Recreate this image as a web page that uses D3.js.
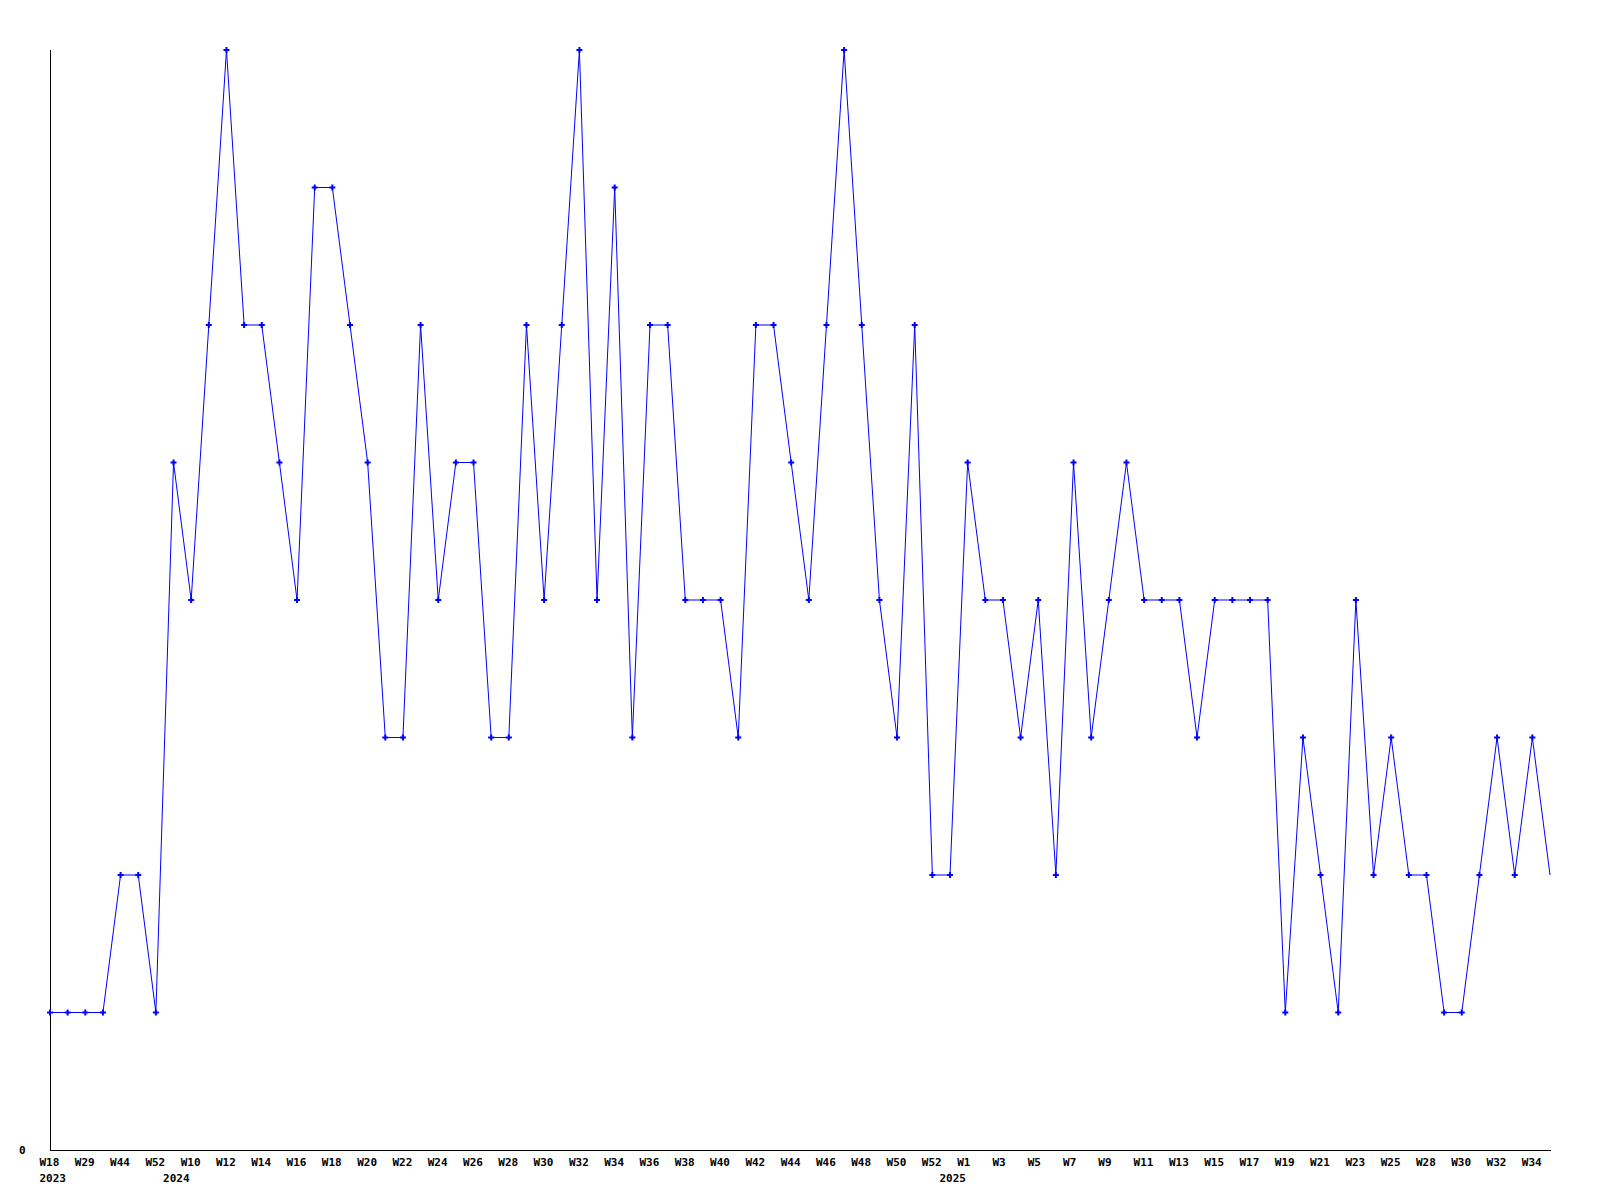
<!DOCTYPE html>
<html>
<head>
<meta charset="utf-8">
<script src="https://cdn.jsdelivr.net/npm/d3@7"></script>
<style>
  html, body { margin: 0; padding: 0; background: #ffffff; }
  svg text { font-family: "DejaVu Sans Mono", "Liberation Mono", monospace; font-weight: bold; font-size: 11px; fill: #000; }
</style>
</head>
<body>
<svg id="chart" width="1600" height="1200"></svg>
<script>
// Week labels for each data point (odd ones are not displayed on the axis)
const weeks = [
  "W18","W22","W29","W37","W44","W48","W52","W1",
  "W10","W11","W12","W13","W14","W15","W16","W17","W18","W19","W20","W21",
  "W22","W23","W24","W25","W26","W27","W28","W29","W30","W31","W32","W33",
  "W34","W35","W36","W37","W38","W39","W40","W41","W42","W43","W44","W45",
  "W46","W47","W48","W49","W50","W51","W52","W1",
  "W1","W2","W3","W4","W5","W6","W7","W8","W9","W10","W11","W12","W13","W14",
  "W15","W16","W17","W18","W19","W20","W21","W22","W23","W24","W25","W27",
  "W28","W29","W30","W31","W32","W33","W34","W35"
];
// Year labels: point index and label
const yearIdx = [0, 7, 51];
const yearText = ["2023", "2024", "2025"];

// Series values
const values = [
  1,1,1,1,2,2,1,5,
  4,6,8,6,6,5,4,7,7,6,5,3,
  3,6,4,5,5,3,3,6,4,6,8,4,
  7,3,6,6,4,4,4,3,6,6,5,4,
  6,8,6,4,3,6,2,2,
  5,4,4,3,4,2,5,3,4,5,4,4,4,3,
  4,4,4,4,1,3,2,1,4,2,3,2,
  2,1,1,2,3,2,3,2
];
const yMax = 8;
const yTicks = [0];

(function () {
  const svg = d3.select("#chart");
  const mLeft = 50, mRight = 1550, mTop = 50, mBottom = 1150;

  const x = d3.scalePoint().domain(d3.range(values.length)).range([mLeft, mRight]);
  const y = d3.scaleLinear().domain([0, yMax]).range([mBottom, mTop]);

  // Axes lines
  svg.append("line").attr("x1", mLeft + 0.5).attr("x2", mLeft + 0.5).attr("y1", mTop).attr("y2", mBottom + 0.5)
    .attr("stroke", "#000").attr("stroke-width", 1);
  svg.append("line").attr("x1", mLeft).attr("x2", mRight + 1).attr("y1", mBottom + 0.5).attr("y2", mBottom + 0.5)
    .attr("stroke", "#000").attr("stroke-width", 1);

  // Y tick labels
  svg.selectAll("text.ylab").data(yTicks).enter().append("text")
    .attr("class", "ylab")
    .attr("x", 19)
    .attr("y", d => y(d) + 4)
    .text(d => d);

  // X tick labels (every other point)
  const shown = d3.range(0, values.length, 2);
  svg.selectAll("text.xlab").data(shown).enter().append("text")
    .attr("class", "xlab")
    .attr("x", i => x(i) - 10.5)
    .attr("y", 1166)
    .text(i => weeks[i]);

  // Year labels
  svg.selectAll("text.year").data(yearIdx).enter().append("text")
    .attr("class", "year")
    .attr("x", i => x(i) - 10.5)
    .attr("y", 1182)
    .text((i, k) => yearText[k]);

  // Line
  const line = d3.line().x((d, i) => x(i)).y(d => y(d));
  svg.append("path").datum(values)
    .attr("d", line)
    .attr("fill", "none")
    .attr("stroke", "#0000ff")
    .attr("stroke-width", 1);

  // Markers (last point has none in the reference)
  const sym = d3.symbol().type(d3.symbolCross).size(20);
  svg.selectAll("path.mk").data(values.slice(0, values.length - 1)).enter().append("path")
    .attr("class", "mk")
    .attr("transform", (d, i) => `translate(${x(i)},${y(d)})`)
    .attr("d", sym)
    .attr("fill", "#0000ff");
})();
</script>
</body>
</html>
